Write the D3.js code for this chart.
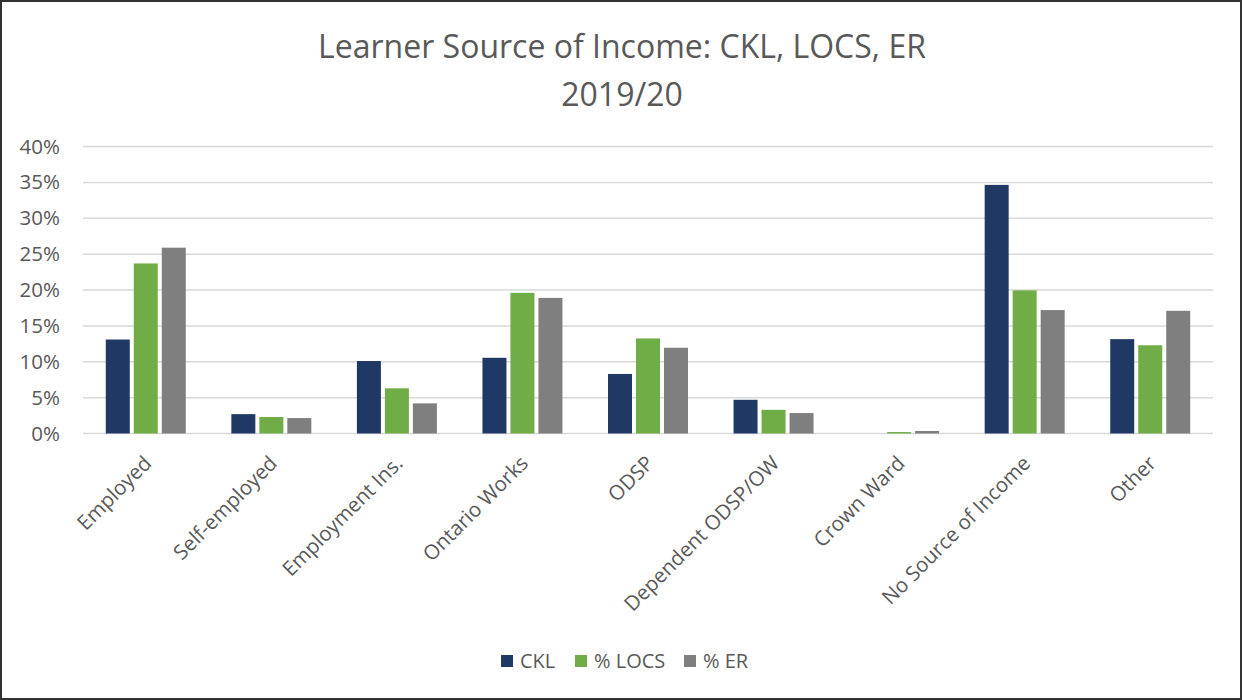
<!DOCTYPE html>
<html>
<head>
<meta charset="utf-8">
<script src="https://cdn.jsdelivr.net/npm/d3@7"></script>
<style>
  html, body { margin: 0; padding: 0; background: #fff; }
  svg { display: block; }
  text { font-family: "Open Sans", sans-serif; fill: #595959; }
</style>
</head>
<body>
<svg id="chart" width="1242" height="700"></svg>
<script>
const categories = ["Employed", "Self-employed", "Employment Ins.", "Ontario Works", "ODSP",
    "Dependent ODSP/OW", "Crown Ward", "No Source of Income", "Other"];
const seriesNames = ["CKL", "% LOCS", "% ER"];
const ckl = [13.1, 2.7, 10.1, 10.55, 8.3, 4.7, 0, 34.65, 13.15];
const locs = [23.7, 2.3, 6.3, 19.6, 13.25, 3.3, 0.2, 19.95, 12.3];
const er = [25.9, 2.15, 4.2, 18.9, 11.95, 2.85, 0.35, 17.2, 17.1];
const yTicks = [0, 5, 10, 15, 20, 25, 30, 35, 40];
const colors = ["#203864", "#70ad47", "#7f7f7f"];

const series = [ckl, locs, er];
const svg = d3.select("#chart");
const W = 1242, H = 700;
const plot = { left: 83, right: 1213, top: 146.5, bottom: 433.5 };

// outer border
svg.append("rect").attr("x", 1).attr("y", 1).attr("width", W - 2).attr("height", H - 2)
    .attr("fill", "#fff").attr("stroke", "#333").attr("stroke-width", 2);

// title
svg.append("text").attr("x", 622).attr("y", 58).attr("text-anchor", "middle")
    .style("font-size", "32px").text("Learner Source of Income: CKL, LOCS, ER");
svg.append("text").attr("x", 622).attr("y", 106).attr("text-anchor", "middle")
    .style("font-size", "32px").text("2019/20");

const x0 = d3.scaleBand().domain(categories).range([plot.left, plot.right])
    .paddingInner(0.363).paddingOuter(0.1815);
const x1 = d3.scaleBand().domain(seriesNames).range([0, x0.bandwidth()])
    .paddingInner(0.143).paddingOuter(0);
const y = d3.scaleLinear().domain([0, 40]).range([plot.bottom, plot.top]);

// gridlines
svg.append("g").selectAll("line").data(yTicks).join("line")
    .attr("x1", plot.left).attr("x2", plot.right)
    .attr("y1", d => y(d)).attr("y2", d => y(d))
    .attr("stroke", "#d9d9d9").attr("stroke-width", 1.5);

// y axis labels
const yAxis = svg.append("g").attr("transform", `translate(${plot.left},0)`)
    .call(d3.axisLeft(y).tickValues(yTicks).tickFormat(d => d + "%").tickSize(0).tickPadding(23));
yAxis.select(".domain").remove();
yAxis.selectAll("text").style("font-size", "20.5px").attr("fill", "#595959")
    .style("font-family", "'Open Sans', sans-serif");

// bars
const groups = svg.append("g").selectAll("g").data(categories).join("g")
    .attr("transform", d => `translate(${x0(d)},0)`);
groups.selectAll("rect").data((c, i) => series.map((s, k) => ({ key: seriesNames[k], v: s[i], k })))
    .join("rect")
    .attr("x", d => x1(d.key))
    .attr("width", x1.bandwidth())
    .attr("y", d => y(d.v))
    .attr("height", d => y(0) - y(d.v))
    .attr("fill", d => colors[d.k]);

// x axis labels
const xAxis = svg.append("g").attr("transform", `translate(0,${plot.bottom})`)
    .call(d3.axisBottom(x0).tickSize(0).tickPadding(0));
xAxis.select(".domain").remove();
xAxis.selectAll("text")
    .style("font-size", "20.5px").attr("fill", "#595959")
    .style("font-family", "'Open Sans', sans-serif")
    .attr("text-anchor", "end")
    .attr("dy", "0.35em")
    .attr("transform", "translate(2,26) rotate(-45)")
    .attr("y", 0).attr("x", 0);

// legend
const legendItems = seriesNames.map((n, i) => ({ n, c: colors[i] }));
const legend = svg.append("g").attr("transform", "translate(0,661)");
const offsets = [501, 575, 684];
legendItems.forEach((d, i) => {
    const g = legend.append("g").attr("transform", `translate(${offsets[i]},0)`);
    g.append("rect").attr("x", 0).attr("y", -6).attr("width", 12).attr("height", 12).attr("fill", d.c);
    g.append("text").attr("x", 19).attr("y", 0).attr("dy", "0.35em")
        .style("font-size", "20px").text(d.n);
});
</script>
</body>
</html>
